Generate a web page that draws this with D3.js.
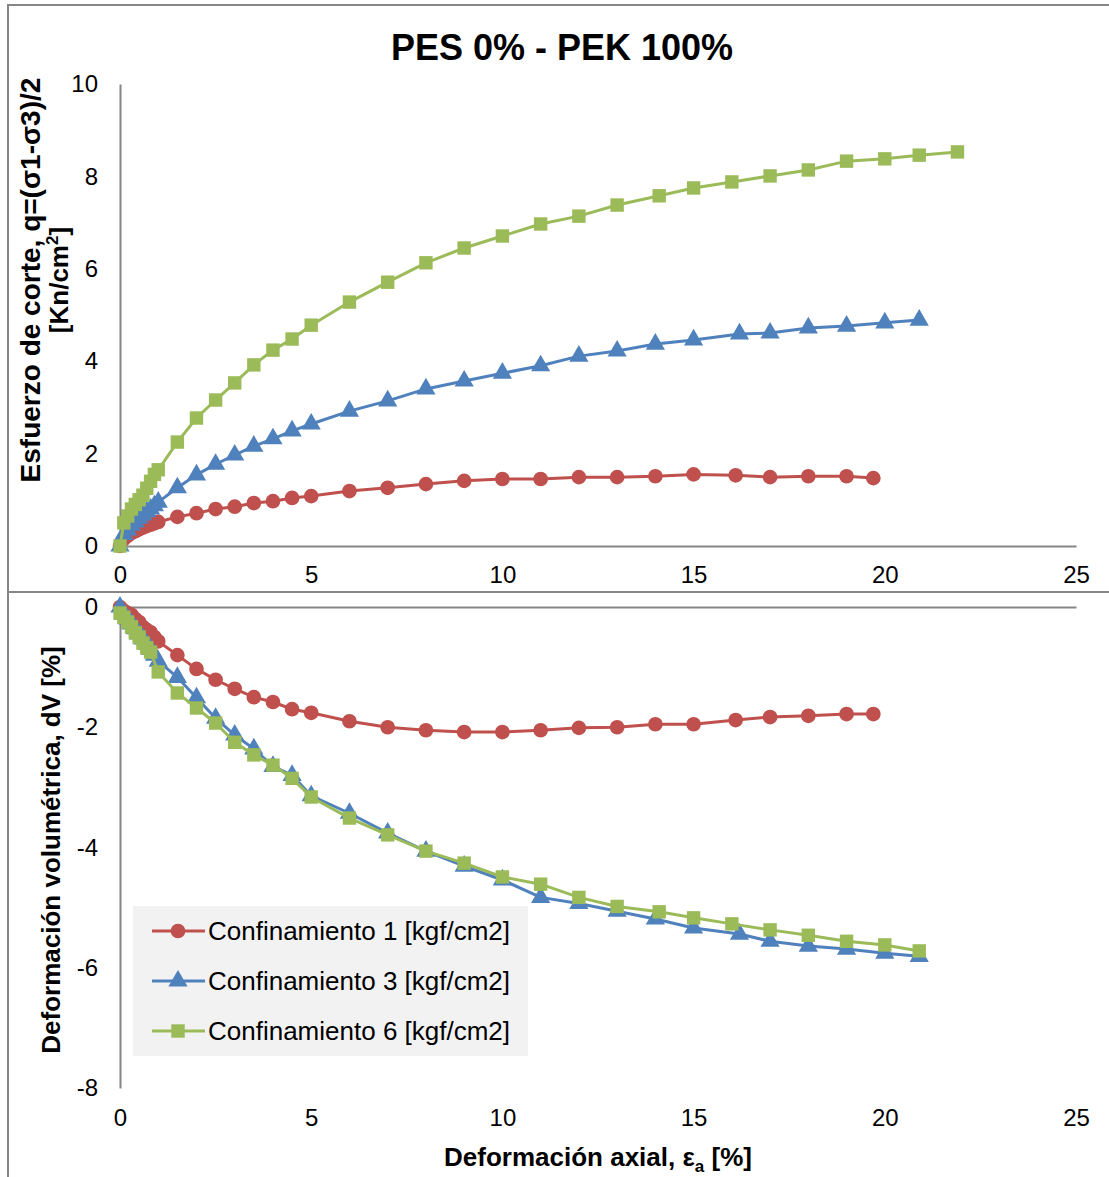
<!DOCTYPE html>
<html>
<head>
<meta charset="utf-8">
<script src="https://cdn.jsdelivr.net/npm/d3@7"></script>
<style>
  body { margin: 0; background: #fff; }
  svg { font-family: "Liberation Sans", Arial, sans-serif; }
</style>
</head>
<body>
<div id="chart"></div>
<script>
// data
const seriesNames = ["Confinamiento 1 [kgf/cm2]", "Confinamiento 3 [kgf/cm2]", "Confinamiento 6 [kgf/cm2]"]

const strain1 = [0,0.1,0.2,0.3,0.4,0.5,0.6,0.7,0.8,0.9,1.0,1.5,2,2.5,3,3.5,4,4.5,5,6,7,8,9,10,11,12,13,14,15,16.1,17,18,19,19.7]
const q1 = [0,0.15,0.22,0.28,0.32,0.36,0.40,0.43,0.46,0.49,0.52,0.63,0.71,0.80,0.85,0.93,0.97,1.04,1.08,1.19,1.26,1.34,1.41,1.45,1.45,1.49,1.49,1.51,1.55,1.53,1.49,1.51,1.51,1.47]
const dv1 = [0,-0.06,-0.1,-0.13,-0.2,-0.25,-0.33,-0.38,-0.42,-0.5,-0.57,-0.8,-1.03,-1.21,-1.36,-1.5,-1.58,-1.7,-1.76,-1.9,-2.0,-2.05,-2.08,-2.08,-2.05,-2.01,-2.0,-1.95,-1.95,-1.88,-1.83,-1.81,-1.78,-1.78]

const strain3 = [0,0.1,0.2,0.3,0.4,0.5,0.6,0.7,0.8,0.9,1.0,1.5,2,2.5,3,3.5,4,4.5,5,6,7,8,9,10,11,12,13,14,15,16.2,17,18,19,20,20.9]
const q3 = [0,0.25,0.35,0.45,0.52,0.6,0.67,0.74,0.8,0.87,0.95,1.26,1.54,1.77,1.97,2.16,2.32,2.49,2.64,2.92,3.14,3.40,3.57,3.74,3.90,4.11,4.22,4.37,4.46,4.59,4.61,4.72,4.76,4.83,4.89]
const dv3 = [0,-0.12,-0.2,-0.28,-0.36,-0.45,-0.53,-0.62,-0.7,-0.8,-0.9,-1.17,-1.51,-1.85,-2.13,-2.36,-2.65,-2.8,-3.14,-3.43,-3.76,-4.06,-4.31,-4.54,-4.83,-4.93,-5.06,-5.19,-5.34,-5.44,-5.56,-5.64,-5.69,-5.76,-5.81]

const strain6q = [0,0.1,0.2,0.3,0.4,0.5,0.6,0.7,0.8,0.9,1.0,1.5,2,2.5,3,3.5,4,4.5,5,6,7,8,9,10,11,12,13,14.1,15,16,17,18,19,20,20.9,21.9]
const q6 = [0,0.5,0.65,0.8,0.9,1.0,1.1,1.25,1.4,1.55,1.65,2.25,2.77,3.16,3.53,3.92,4.24,4.48,4.78,5.28,5.71,6.13,6.45,6.71,6.97,7.14,7.38,7.58,7.75,7.88,8.01,8.14,8.33,8.38,8.46,8.53]
const strain6v = [0,0.1,0.2,0.3,0.4,0.5,0.6,0.7,0.8,1.0,1.5,2,2.5,3,3.5,4,4.5,5,6,7,8,9,10,11,12,13,14.1,15,16,17,18,19,20,20.9]
const dv6 = [-0.1,-0.17,-0.25,-0.33,-0.43,-0.5,-0.6,-0.68,-0.75,-1.08,-1.43,-1.68,-1.93,-2.25,-2.46,-2.63,-2.85,-3.16,-3.51,-3.79,-4.06,-4.26,-4.49,-4.61,-4.83,-4.98,-5.07,-5.17,-5.27,-5.37,-5.46,-5.56,-5.62,-5.72]

const xTicks = [0,5,10,15,20,25]
const qTicks = [0,2,4,6,8,10]
const dvTicks = [0,-2,-4,-6,-8]

const colors = ["#C0504D", "#4F81BD", "#9BBB59"]
const shapes = [d3.symbolCircle, d3.symbolTriangle, d3.symbolSquare]
const sizes = [170, 160, 180]

const width = 1109, height = 1177
const axisColor = "#868686"

const svg = d3.select('#chart').append('svg')
              .attr('width', width)
              .attr('height', height)

// chart frames
svg.append('rect').attr('x', 8).attr('y', 5).attr('width', 1120).attr('height', 587)
   .attr('fill', 'none').attr('stroke', axisColor).attr('stroke-width', 2)
svg.append('rect').attr('x', 8).attr('y', 592).attr('width', 1120).attr('height', 620)
   .attr('fill', 'none').attr('stroke', axisColor).attr('stroke-width', 2)

const xScale = d3.scaleLinear().domain([0, 25]).range([120, 1076])
const qScale = d3.scaleLinear().domain([0, 10]).range([546, 84])
const dvScale = d3.scaleLinear().domain([-8, 0]).range([1088, 607])

const fmt = function(d) { return String(d) }

// title
svg.append('text').attr('x', 562).attr('y', 60).attr('text-anchor', 'middle')
   .attr('font-size', 36).attr('font-weight', 'bold').text('PES 0% - PEK 100%')

// top axes
const topX = svg.append('g').attr('transform', 'translate(0,' + qScale(0) + ')')
  .call(d3.axisBottom(xScale).tickValues(xTicks).tickFormat(fmt).tickSize(0).tickPadding(20))
const topY = svg.append('g').attr('transform', 'translate(' + xScale(0) + ',0)')
  .call(d3.axisLeft(qScale).tickValues(qTicks).tickFormat(fmt).tickSize(0).tickPadding(22))

// bottom axes
const botX = svg.append('g').attr('transform', 'translate(0,' + dvScale(0) + ')')
  .call(d3.axisBottom(xScale).tickValues(xTicks).tickFormat(fmt).tickSize(0).tickPadding(0))
botX.selectAll('text').attr('y', dvScale(-8) - dvScale(0) + 38).attr('dy', 0)
const botY = svg.append('g').attr('transform', 'translate(' + xScale(0) + ',0)')
  .call(d3.axisLeft(dvScale).tickValues(dvTicks).tickFormat(fmt).tickSize(0).tickPadding(22))

;[topX, topY, botX, botY].forEach(function(g) {
  g.select('.domain').attr('stroke', axisColor).attr('stroke-width', 2)
  g.selectAll('text').attr('font-size', 24).attr('fill', '#000')
    .attr('font-family', '"Liberation Sans", Arial, sans-serif')
})

// axis titles
const yt = svg.append('text').attr('transform', 'translate(40,280) rotate(-90)')
   .attr('text-anchor', 'middle').attr('font-size', 26).attr('font-weight', 'bold')
yt.append('tspan').attr('x', 0).attr('dy', 0).attr('font-size', 28).text('Esfuerzo de corte, q=(σ1-σ3)/2')
yt.append('tspan').attr('x', 0).attr('dy', 28).text('[Kn/cm')
yt.append('tspan').attr('font-size', 17).attr('dy', -10).text('2')
yt.append('tspan').attr('dy', 10).text(']')

svg.append('text').attr('transform', 'translate(60,850) rotate(-90)')
   .attr('text-anchor', 'middle').attr('font-size', 26).attr('font-weight', 'bold')
   .text('Deformación volumétrica, dV [%]')

const xt = svg.append('text').attr('x', 598).attr('y', 1166)
   .attr('text-anchor', 'middle').attr('font-size', 26).attr('font-weight', 'bold')
xt.append('tspan').text('Deformación axial, ε')
xt.append('tspan').attr('font-size', 17).attr('dy', 6).text('a')
xt.append('tspan').attr('dy', -6).text(' [%]')

// series
const topSeries = [
  { x: strain1, y: q1 },
  { x: strain3, y: q3 },
  { x: strain6q, y: q6 }
]
const botSeries = [
  { x: strain1, y: dv1 },
  { x: strain3, y: dv3 },
  { x: strain6v, y: dv6 }
]

function drawSeries(list, yScale) {
  list.forEach(function(s, i) {
    const pts = s.x.map(function(v, j) { return [v, s.y[j]] })
    svg.append('path').datum(pts)
       .attr('fill', 'none').attr('stroke', colors[i]).attr('stroke-width', 3)
       .attr('d', d3.line().x(function(d) { return xScale(d[0]) }).y(function(d) { return yScale(d[1]) }))
    svg.append('g').selectAll('path').data(pts).enter().append('path')
       .attr('transform', function(d) { return 'translate(' + xScale(d[0]) + ',' + yScale(d[1]) + ')' })
       .attr('d', d3.symbol().type(shapes[i]).size(sizes[i]))
       .attr('fill', colors[i])
  })
}
drawSeries(topSeries, qScale)
drawSeries(botSeries, dvScale)

// legend
const legend = svg.append('g')
legend.append('rect').attr('x', 133).attr('y', 906).attr('width', 395).attr('height', 150)
      .attr('fill', '#f2f2f2')
seriesNames.forEach(function(name, i) {
  const y = 931 + i * 50
  legend.append('line').attr('x1', 152).attr('x2', 205).attr('y1', y).attr('y2', y)
        .attr('stroke', colors[i]).attr('stroke-width', 3)
  legend.append('path').attr('transform', 'translate(178,' + y + ')')
        .attr('d', d3.symbol().type(shapes[i]).size(sizes[i])).attr('fill', colors[i])
  legend.append('text').attr('x', 208).attr('y', y + 9).attr('font-size', 26).text(name)
})
</script>
</body>
</html>
